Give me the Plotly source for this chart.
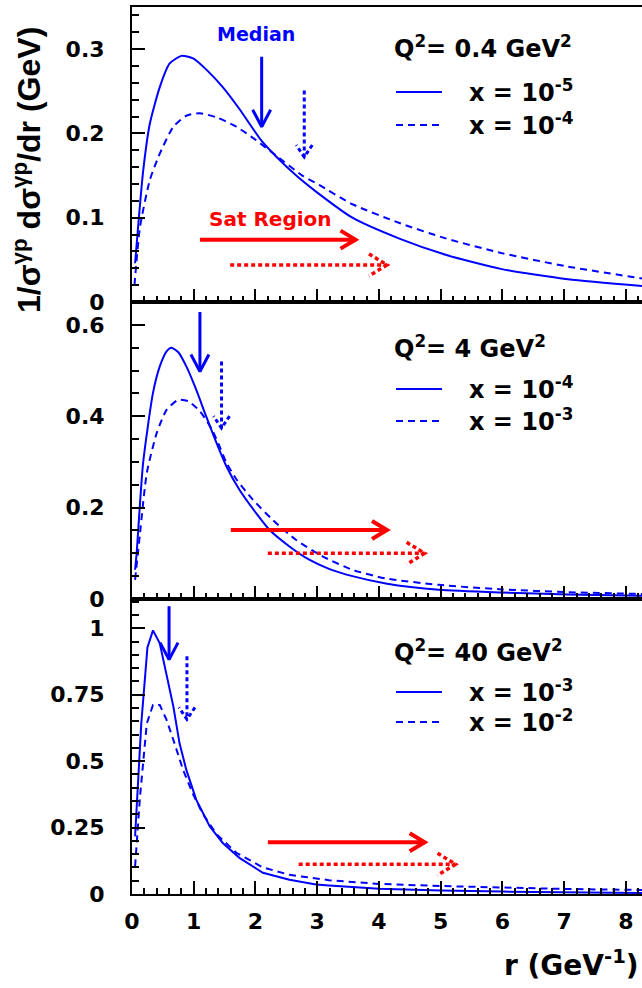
import math
import plotly.graph_objects as go

# ---------------- data ----------------
# Panel 1: Q^2 = 0.4 GeV^2
r_q04_x1e5 = [0.05, 0.10, 0.18, 0.29, 0.45, 0.61, 0.80, 0.99, 1.20, 1.47, 1.74, 2.09, 2.33, 2.66, 2.98, 3.57, 4.32, 5.08, 5.99, 7.06, 8.26]
y_q04_x1e5 = [0.046, 0.090, 0.155, 0.212, 0.255, 0.283, 0.292, 0.289, 0.276, 0.255, 0.229, 0.192, 0.173, 0.150, 0.131, 0.100, 0.0755, 0.056, 0.039, 0.027, 0.019]
r_q04_x1e4 = [0.04, 0.13, 0.29, 0.45, 0.67, 0.88, 1.10, 1.37, 1.69, 2.01, 2.33, 2.76, 3.03, 3.57, 4.32, 5.08, 5.99, 7.06, 8.26]
y_q04_x1e4 = [0.020, 0.089, 0.145, 0.176, 0.208, 0.221, 0.224, 0.219, 0.208, 0.192, 0.174, 0.150, 0.139, 0.116, 0.094, 0.0755, 0.058, 0.042, 0.028]

# Panel 2: Q^2 = 4 GeV^2
r_q4_x1e4 = [0.05, 0.075, 0.18, 0.34, 0.45, 0.56, 0.64, 0.75, 0.88, 1.04, 1.20, 1.37, 1.53, 1.74, 2.01, 2.23, 2.55, 2.87, 3.19, 3.57, 4.11, 4.97, 5.99, 7.06, 8.26]
y_q4_x1e4 = [0.064, 0.100, 0.298, 0.451, 0.509, 0.542, 0.550, 0.540, 0.509, 0.458, 0.400, 0.341, 0.290, 0.239, 0.188, 0.151, 0.115, 0.086, 0.066, 0.050, 0.034, 0.020, 0.014, 0.010, 0.007]
r_q4_x1e3 = [0.05, 0.13, 0.24, 0.40, 0.56, 0.75, 0.91, 1.10, 1.29, 1.40, 1.53, 1.69, 1.96, 2.28, 2.66, 3.09, 3.57, 4.11, 4.97, 5.99, 7.06, 8.26]
y_q4_x1e3 = [0.042, 0.144, 0.276, 0.363, 0.414, 0.436, 0.433, 0.411, 0.372, 0.340, 0.298, 0.262, 0.217, 0.173, 0.129, 0.093, 0.064, 0.045, 0.031, 0.021, 0.015, 0.011]

# Panel 3: Q^2 = 40 GeV^2
r_q40_x1e3 = [0.05, 0.15, 0.25, 0.34, 0.45, 0.56, 0.67, 0.77, 0.88, 1.04, 1.26, 1.47, 1.74, 2.12, 2.55, 2.98, 3.19, 4.0, 5.0, 6.0, 7.0, 8.26]
y_q40_x1e3 = [0.217, 0.640, 0.928, 0.992, 0.943, 0.830, 0.705, 0.567, 0.467, 0.355, 0.254, 0.192, 0.136, 0.080, 0.054, 0.036, 0.032, 0.020, 0.013, 0.009, 0.006, 0.004]
r_q40_x1e2 = [0.05, 0.13, 0.24, 0.34, 0.45, 0.56, 0.67, 0.83, 0.99, 1.15, 1.37, 1.69, 2.12, 2.55, 3.19, 4.0, 5.0, 6.0, 7.0, 8.26]
y_q40_x1e2 = [0.104, 0.367, 0.642, 0.711, 0.711, 0.655, 0.580, 0.465, 0.375, 0.300, 0.225, 0.155, 0.100, 0.072, 0.052, 0.038, 0.030, 0.024, 0.019, 0.015]

# Median arrows (r position, arrow top, arrow tip) per panel: [solid, dotted]
median_r = [[2.10, 2.79], [1.10, 1.45], [0.60, 0.89]]
median_top = [[0.291, 0.251], [0.628, 0.520], [1.083, 0.895]]
median_tip = [[0.208, 0.172], [0.498, 0.374], [0.882, 0.657]]
# Saturation-region arrows (start r, end r, height) per panel: [solid, dotted]
sat_start = [[1.10, 1.59], [1.60, 2.20], [2.20, 2.70]]
sat_end = [[3.62, 4.13], [4.13, 4.74], [4.74, 5.24]]
sat_y = [[0.074, 0.044], [0.151, 0.100], [0.195, 0.112]]

q2_labels = ["Q<sup>2</sup>= 0.4 GeV<sup>2</sup>", "Q<sup>2</sup>= 4 GeV<sup>2</sup>", "Q<sup>2</sup>= 40 GeV<sup>2</sup>"]
x_labels = [["x = 10<sup>-5</sup>", "x = 10<sup>-4</sup>"],
            ["x = 10<sup>-4</sup>", "x = 10<sup>-3</sup>"],
            ["x = 10<sup>-3</sup>", "x = 10<sup>-2</sup>"]]

y_ticks = [[0, 0.1, 0.2, 0.3], [0, 0.2, 0.4, 0.6], [0, 0.25, 0.5, 0.75, 1]]
y_ticktext = [["0", "0.1", "0.2", "0.3"], ["0", "0.2", "0.4", "0.6"], ["0", "0.25", "0.5", "0.75", "1"]]
x_ticks = [0, 1, 2, 3, 4, 5, 6, 7, 8]

# ---------------- layout constants ----------------
W, H = 642, 988
L, R, T, B = 132, 0, 7, 94
PW = W - L - R
PH = H - T - B
XMAX = 8.26
panel_px = [(7, 302), (302, 599), (599, 894)]
y_max = [0.35, 0.65, 1.11]
minor_dt = [0.02, 0.05, 0.05]
line_shapes = ["spline", "spline", "linear"]

BLUE = "#0000ff"
RED = "#ff0000"
FONT = "DejaVu Sans"

def px_x(p):
    return (p - L) / PW

def px_y(p):
    return (H - B - p) / PH

# axis names: panel 0 (top) -> x3/y3, panel 1 -> x2/y2, panel 2 (bottom) -> x/y
ax_names = [("x3", "y3"), ("x2", "y2"), ("x", "y")]

fig = go.Figure()

curves = [
    (r_q04_x1e5, y_q04_x1e5, r_q04_x1e4, y_q04_x1e4),
    (r_q4_x1e4, y_q4_x1e4, r_q4_x1e3, y_q4_x1e3),
    (r_q40_x1e3, y_q40_x1e3, r_q40_x1e2, y_q40_x1e2),
]

def arrow(i, x0, y0, x1, y1, color, width, dash, head_len, head_half):
    xa, ya = ax_names[i]
    top, bot = panel_px[i]
    sx = PW / XMAX
    sy = (bot - top) / y_max[i]
    dxp = (x1 - x0) * sx
    dyp = (y1 - y0) * sy
    n = math.hypot(dxp, dyp)
    ux, uy = dxp / n, dyp / n
    xs = [x0, x1, None]
    ys = [y0, y1, None]
    arms = []
    for s in (1, -1):
        axp = -ux * head_len + s * (-uy) * head_half
        ayp = -uy * head_len + s * ux * head_half
        arms.append((x1 + axp / sx, y1 + ayp / sy))
    xs += [arms[0][0], x1, arms[1][0]]
    ys += [arms[0][1], y1, arms[1][1]]
    fig.add_trace(go.Scatter(x=xs, y=ys, xaxis=xa, yaxis=ya, mode="lines",
                             line=dict(color=color, width=width, dash=dash),
                             showlegend=False, hoverinfo="skip"))

for i in range(3):
    xa, ya = ax_names[i]
    rs, ys_, rd, yd = curves[i]
    fig.add_trace(go.Scatter(x=rs, y=ys_, xaxis=xa, yaxis=ya, mode="lines",
                             line=dict(color=BLUE, width=2, shape=line_shapes[i], smoothing=0.6),
                             showlegend=False))
    fig.add_trace(go.Scatter(x=rd, y=yd, xaxis=xa, yaxis=ya, mode="lines",
                             line=dict(color=BLUE, width=2, dash="7px,5px", shape=line_shapes[i], smoothing=0.6),
                             showlegend=False))
    # median arrows
    arrow(i, median_r[i][0], median_top[i][0], median_r[i][0], median_tip[i][0], BLUE, 3, "solid", 17, 9)
    arrow(i, median_r[i][1], median_top[i][1], median_r[i][1], median_tip[i][1], BLUE, 3, "4px,3px", 12, 8)
    # saturation arrows
    arrow(i, sat_start[i][0], sat_y[i][0], sat_end[i][0], sat_y[i][0], RED, 4, "solid", 15, 9)
    arrow(i, sat_start[i][1], sat_y[i][1], sat_end[i][1], sat_y[i][1], RED, 3.5, "4px,3px", 18, 11)

tickfont = dict(family=FONT, size=22, color="black", weight="bold")

layout = dict(
    width=W, height=H,
    margin=dict(l=L, r=R, t=T, b=B, pad=0),
    paper_bgcolor="white", plot_bgcolor="white",
    showlegend=False,
)

for i in range(3):
    xa, ya = ax_names[i]
    top, bot = panel_px[i]
    xkey = "xaxis" if xa == "x" else "xaxis" + xa[1:]
    ykey = "yaxis" if ya == "y" else "yaxis" + ya[1:]
    layout[xkey] = dict(
        domain=[0, 1], anchor=ya, range=[0, XMAX],
        showgrid=False, zeroline=False,
        showline=True, linecolor="black", linewidth=2, mirror=True,
        ticks="inside", ticklen=13, tickwidth=1.5, tickcolor="black",
        tickvals=x_ticks, ticktext=[str(v) for v in x_ticks],
        showticklabels=(i == 2), tickfont=tickfont, ticklabelstandoff=7,
        minor=dict(dtick=0.2, tick0=0, ticks="inside", ticklen=6, tickwidth=1.5, tickcolor="black"),
        fixedrange=True,
    )
    layout[ykey] = dict(
        domain=[px_y(bot), px_y(top)], anchor=xa, range=[0, y_max[i]],
        showgrid=False, zeroline=False,
        showline=True, linecolor="black", linewidth=2, mirror=False,
        ticks="inside", ticklen=13, tickwidth=1.5, tickcolor="black",
        tickvals=y_ticks[i], ticktext=y_ticktext[i],
        tickfont=tickfont, ticklabelstandoff=21,
        minor=dict(dtick=minor_dt[i], tick0=0, ticks="inside", ticklen=6.5, tickwidth=1.5, tickcolor="black"),
        fixedrange=True,
    )

fig.update_layout(**layout)

# legends: positions in pixels
legend_q_y = [48, 348, 652]
legend_l1_y = [92, 389, 692]
legend_l2_y = [125, 421, 722]
shapes = []
annotations = []
for i in range(3):
    shapes.append(dict(type="line", xref="paper", yref="paper",
                       x0=px_x(396), x1=px_x(442), y0=px_y(legend_l1_y[i]), y1=px_y(legend_l1_y[i]),
                       line=dict(color=BLUE, width=2)))
    shapes.append(dict(type="line", xref="paper", yref="paper",
                       x0=px_x(396), x1=px_x(442), y0=px_y(legend_l2_y[i]), y1=px_y(legend_l2_y[i]),
                       line=dict(color=BLUE, width=2, dash="7px,5px")))
    annotations.append(dict(text=q2_labels[i], xref="paper", yref="paper",
                            x=px_x(392), y=px_y(legend_q_y[i] - 1), xanchor="left", yanchor="middle",
                            showarrow=False, font=dict(family=FONT, size=24, color="black", weight="bold")))
    for k, yy in enumerate([legend_l1_y[i], legend_l2_y[i]]):
        annotations.append(dict(text=x_labels[i][k], xref="paper", yref="paper",
                                x=px_x(467), y=px_y(yy - 1), xanchor="left", yanchor="middle",
                                showarrow=False, font=dict(family=FONT, size=24, color="black", weight="bold")))

annotations.append(dict(text="Median", xref="paper", yref="paper", x=px_x(256), y=px_y(34),
                        xanchor="center", yanchor="middle", showarrow=False,
                        font=dict(family=FONT, size=19, color=BLUE, weight="bold")))
annotations.append(dict(text="Sat Region", xref="paper", yref="paper", x=px_x(270), y=px_y(219),
                        xanchor="center", yanchor="middle", showarrow=False,
                        font=dict(family=FONT, size=20, color=RED, weight="bold")))
annotations.append(dict(text="1/σ<sup>γp</sup> dσ<sup>γp</sup>/dr (GeV)", xref="paper", yref="paper",
                        x=px_x(27), y=px_y(170), xanchor="center", yanchor="middle", textangle=-90,
                        showarrow=False, font=dict(family="Liberation Sans", size=32, color="black", weight="bold")))
annotations.append(dict(text="r (GeV<sup>-1</sup>)", xref="paper", yref="paper",
                        x=px_x(641), y=px_y(964), xanchor="right", yanchor="middle",
                        showarrow=False, font=dict(family=FONT, size=28, color="black", weight="bold")))

fig.update_layout(shapes=shapes, annotations=annotations)

fig.write_html("out.html")
